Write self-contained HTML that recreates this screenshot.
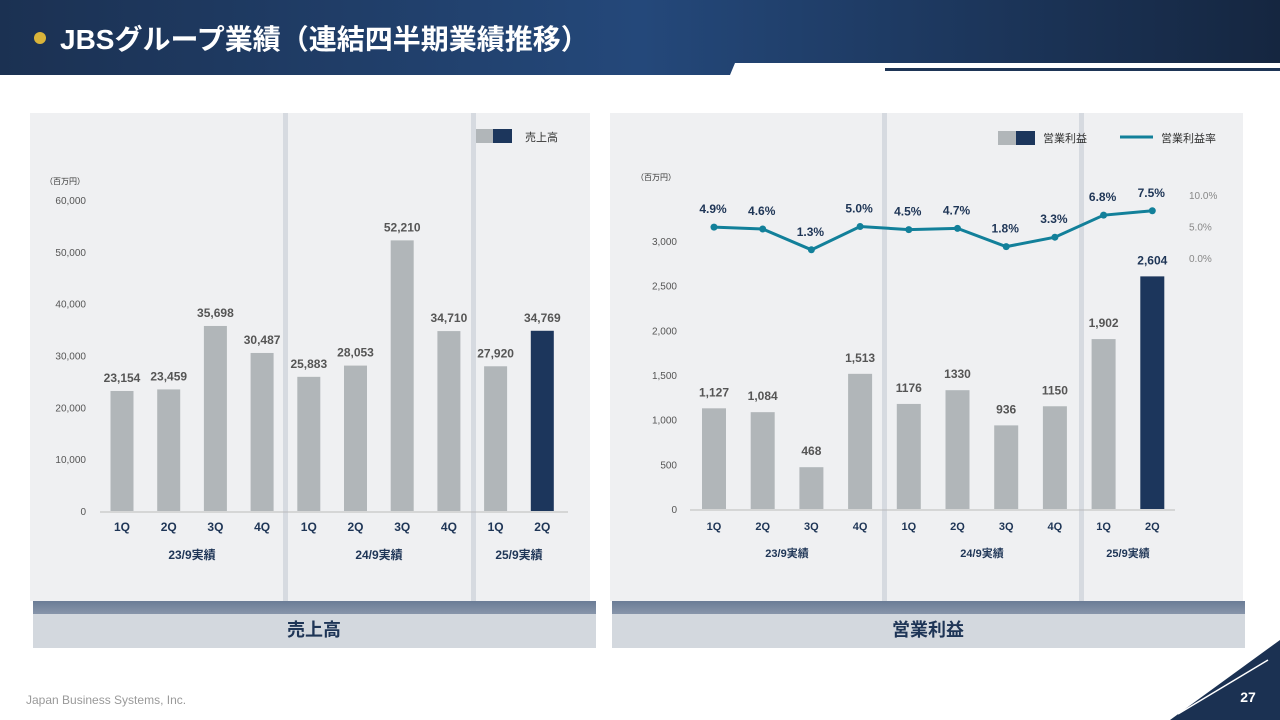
<!DOCTYPE html>
<html><head><meta charset="utf-8">
<style>
body{margin:0;width:1280px;height:720px;overflow:hidden;background:#fff;font-family:"Liberation Sans","Noto Sans CJK JP",sans-serif;}
svg{position:absolute;left:0;top:0}
</style></head><body>
<svg id="s" width="1280" height="720" viewBox="0 0 1280 720" xmlns="http://www.w3.org/2000/svg" font-family="Liberation Sans, Noto Sans CJK JP, sans-serif">
<defs>
<linearGradient id="hdr" x1="0" y1="0" x2="1" y2="0"><stop offset="0" stop-color="#1b3152"/><stop offset="0.5" stop-color="#24487a"/><stop offset="1" stop-color="#152640"/></linearGradient>
<linearGradient id="ft" x1="0" y1="0" x2="0" y2="1"><stop offset="0" stop-color="#6b7c96"/><stop offset="1" stop-color="#d3d8de"/></linearGradient>
</defs>
<g>
<rect x="0" y="0" width="1280" height="75" fill="url(#hdr)"/>
<polygon points="735,63 1280,63 1280,75 730,75" fill="#fff"/>
<rect x="885" y="68" width="395" height="3" fill="#1e3556"/>
<circle cx="40" cy="38" r="6" fill="#d9b43a"/>
<text x="60" y="49" font-size="28" font-weight="bold" fill="#fff">JBSグループ業績（連結四半期業績推移）</text>
</g>
<g>
<rect x="30" y="113" width="560" height="488" fill="#eff0f2"/>
<rect x="283" y="113" width="5" height="488" fill="#d6dae0"/>
<rect x="471" y="113" width="5" height="488" fill="#d6dae0"/>
</g>
<g>
<rect x="610" y="113" width="633" height="488" fill="#eff0f2"/>
<rect x="882" y="113" width="5" height="488" fill="#d6dae0"/>
<rect x="1079" y="113" width="5" height="488" fill="#d6dae0"/>
</g>
<g>
<rect x="33" y="601" width="563" height="47" fill="url(#ft)"/>
<rect x="33" y="614" width="563" height="34" fill="#d3d8de"/>
<text x="314" y="636" font-size="18" font-weight="bold" fill="#1e3556" text-anchor="middle">売上高</text>
</g>
<g>
<rect x="612" y="601" width="633" height="47" fill="url(#ft)"/>
<rect x="612" y="614" width="633" height="34" fill="#d3d8de"/>
<text x="928" y="636" font-size="18" font-weight="bold" fill="#1e3556" text-anchor="middle">営業利益</text>
</g>
<text x="26" y="704" font-size="12" fill="#999">Japan Business Systems, Inc.</text>
<polygon points="1170,720 1280,640 1280,720" fill="#1b3152"/>
<line x1="1178" y1="714" x2="1268" y2="660" stroke="#fff" stroke-width="1.5"/>
<text x="1248" y="702" font-size="14" font-weight="bold" fill="#fff" text-anchor="middle">27</text>
<g id="g1"></g><g id="g2"></g>
</svg>
<script>
const quarters=["1Q","2Q","3Q","4Q","1Q","2Q","3Q","4Q","1Q","2Q"];
const salesValues=[23154,23459,35698,30487,25883,28053,52210,34710,27920,34769];
const salesLabels=["23,154","23,459","35,698","30,487","25,883","28,053","52,210","34,710","27,920","34,769"];
const salesTicks=[0,10000,20000,30000,40000,50000,60000];
const profitValues=[1127,1084,468,1513,1176,1330,936,1150,1902,2604];
const profitLabels=["1,127","1,084","468","1,513","1176","1330","936","1150","1,902","2,604"];
const profitTicks=[0,500,1000,1500,2000,2500,3000];
const marginValues=[4.9,4.6,1.3,5.0,4.5,4.7,1.8,3.3,6.8,7.5];
const marginTicks=[0,5,10];
const years=["23/9実績","24/9実績","25/9実績"];
const NS="http://www.w3.org/2000/svg";
function mk(p,tag,a,txt){const e=document.createElementNS(NS,tag);for(const k in a)e.setAttribute(k,a[k]);if(txt!=null)e.textContent=txt;p.appendChild(e);return e;}
function fmt(v){return v.toLocaleString('en-US');}
const g1=document.getElementById('g1');
const sx=i=>122+i*46.7, sy=v=>511-v*311/60000;
mk(g1,'text',{x:45,y:184,'font-size':8,fill:'#333'},'（百万円）');
salesTicks.forEach(t=>{const e=mk(g1,'text',{x:86,y:sy(t)+4,'font-size':10,fill:'#555','text-anchor':'end'},fmt(t));

});
mk(g1,'line',{x1:100,x2:568,y1:512,y2:512,stroke:'#bbb'});
salesValues.forEach((v,i)=>{
const r=mk(g1,'rect',{x:sx(i)-11.5,y:sy(v),width:23,height:511-sy(v),fill:i==9?'#1c365c':'#b1b6b9'});


const t=mk(g1,'text',{x:sx(i),y:sy(v)-9,'font-size':12,'font-weight':'bold',fill:'#555','text-anchor':'middle'},salesLabels[i]);


const q=mk(g1,'text',{x:sx(i),y:531,'font-size':12,'font-weight':'bold',fill:'#1e3556','text-anchor':'middle'},quarters[i]);


});
[192,379,519].forEach((x,i)=>{const e=mk(g1,'text',{x:x,y:559,'font-size':12,'font-weight':'bold',fill:'#1e3556','text-anchor':'middle'},years[i]);

});
mk(g1,'rect',{x:476,y:129,width:17,height:14,fill:'#b1b6b9'});
mk(g1,'rect',{x:493,y:129,width:19,height:14,fill:'#1c365c'});
mk(g1,'text',{x:525,y:141,'font-size':11,fill:'#333'},'売上高');
const g2=document.getElementById('g2');
const px=i=>714+i*48.7, py=v=>509-v*268/3000, ry=p=>258-p*6.3;
mk(g2,'text',{x:636,y:180,'font-size':8,fill:'#333'},'（百万円）');
profitTicks.forEach(t=>{const e=mk(g2,'text',{x:677,y:py(t)+4,'font-size':10,fill:'#555','text-anchor':'end'},fmt(t));

});
marginTicks.forEach(t=>{const e=mk(g2,'text',{x:1189,y:ry(t)+4,'font-size':10,fill:'#888'},t.toFixed(1)+'%');

});
mk(g2,'line',{x1:690,x2:1175,y1:510,y2:510,stroke:'#bbb'});
profitValues.forEach((v,i)=>{
const r=mk(g2,'rect',{x:px(i)-12,y:py(v),width:24,height:509-py(v),fill:i==9?'#1c365c':'#b1b6b9'});


const t=mk(g2,'text',{x:px(i),y:py(v)-12,'font-size':12,'font-weight':'bold',fill:i==9?'#1e3556':'#555','text-anchor':'middle'},profitLabels[i]);


const q=mk(g2,'text',{x:px(i),y:530,'font-size':11,'font-weight':'bold',fill:'#1e3556','text-anchor':'middle'},quarters[i]);


});
const line=mk(g2,'polyline',{points:marginValues.map((p,i)=>px(i)+','+ry(p)).join(' '),fill:'none',stroke:'#12809a','stroke-width':3});


marginValues.forEach((p,i)=>{
const c=mk(g2,'circle',{cx:px(i),cy:ry(p),r:3.5,fill:'#12809a'});


const t=mk(g2,'text',{x:px(i)-1,y:ry(p)-14,'font-size':12,'font-weight':'bold',fill:'#1e3556','text-anchor':'middle'},p.toFixed(1)+'%');


});
[787,982,1128].forEach((x,i)=>{const e=mk(g2,'text',{x:x,y:557,'font-size':11,'font-weight':'bold',fill:'#1e3556','text-anchor':'middle'},years[i]);

});
mk(g2,'rect',{x:998,y:131,width:18,height:14,fill:'#b1b6b9'});
mk(g2,'rect',{x:1016,y:131,width:19,height:14,fill:'#1c365c'});
mk(g2,'text',{x:1043,y:142,'font-size':11,fill:'#333'},'営業利益');
mk(g2,'line',{x1:1120,x2:1153,y1:137,y2:137,stroke:'#12809a','stroke-width':3});
mk(g2,'text',{x:1161,y:142,'font-size':11,fill:'#333'},'営業利益率');
</script>
</body></html>
